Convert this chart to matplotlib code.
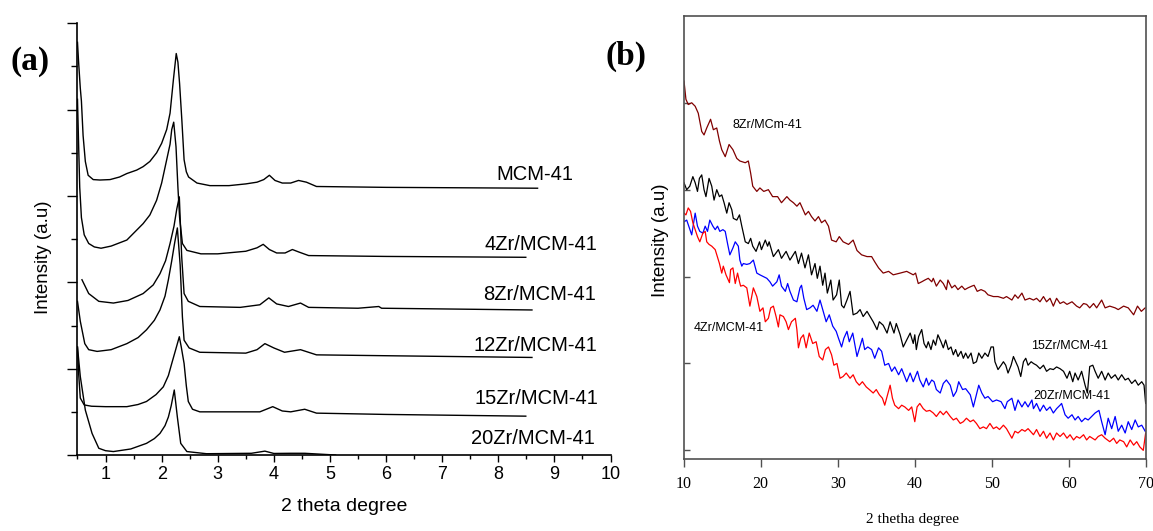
import numpy as np
import matplotlib
matplotlib.use("Agg")
import matplotlib.pyplot as plt
from matplotlib.ticker import MultipleLocator
from matplotlib import font_manager

# ---- panel (a): low angle XRD, curves already stacked (x = 2theta, y = offset intensity)
mcm41 = [(0.50, 4.78), (0.52, 4.55), (0.55, 4.25), (0.57, 4.10), (0.60, 3.70), (0.64, 3.40),
         (0.69, 3.24), (0.78, 3.19), (0.90, 3.185), (1.08, 3.19), (1.25, 3.22), (1.38, 3.26),
         (1.555, 3.30), (1.67, 3.34), (1.79, 3.40), (1.91, 3.50), (2.00, 3.61), (2.09, 3.77),
         (2.15, 3.96), (2.21, 4.35), (2.26, 4.65), (2.29, 4.55), (2.32, 4.30), (2.36, 3.88),
         (2.40, 3.42), (2.44, 3.28), (2.48, 3.22), (2.63, 3.15), (2.86, 3.12), (3.20, 3.12),
         (3.50, 3.14), (3.70, 3.16), (3.82, 3.19), (3.92, 3.24), (4.02, 3.18), (4.15, 3.15),
         (4.30, 3.15), (4.44, 3.18), (4.58, 3.16), (4.76, 3.11), (6.00, 3.10), (8.70, 3.09)]
zr4 = [(0.50, 4.12), (0.52, 3.60), (0.54, 3.10), (0.57, 2.75), (0.62, 2.55), (0.70, 2.45),
       (0.80, 2.41), (0.92, 2.395), (1.10, 2.42), (1.38, 2.49), (1.67, 2.68), (1.79, 2.78),
       (1.91, 2.95), (2.00, 3.15), (2.09, 3.42), (2.15, 3.60), (2.18, 3.77), (2.215, 3.855),
       (2.256, 3.57), (2.29, 3.10), (2.32, 2.75), (2.37, 2.45), (2.45, 2.37), (2.70, 2.33),
       (3.00, 2.33), (3.50, 2.36), (3.70, 2.40), (3.81, 2.44), (3.92, 2.38), (4.05, 2.34),
       (4.20, 2.34), (4.33, 2.38), (4.45, 2.35), (4.62, 2.31), (6.00, 2.30), (8.49, 2.29)]
zr8 = [(0.58, 2.03), (0.70, 1.87), (0.88, 1.78), (1.14, 1.76), (1.40, 1.79), (1.67, 1.87),
       (1.85, 1.97), (1.97, 2.10), (2.07, 2.25), (2.15, 2.45), (2.22, 2.65), (2.27, 2.85),
       (2.315, 2.99), (2.357, 2.30), (2.40, 1.87), (2.475, 1.78), (2.68, 1.72), (3.40, 1.71),
       (3.75, 1.74), (3.91, 1.82), (4.05, 1.75), (4.26, 1.72), (4.475, 1.76), (4.62, 1.71),
       (5.50, 1.70), (5.87, 1.72), (5.92, 1.70), (8.60, 1.68)]
zr12 = [(0.50, 1.78), (0.55, 1.55), (0.63, 1.29), (0.70, 1.22), (0.85, 1.20), (1.10, 1.22),
        (1.38, 1.29), (1.58, 1.36), (1.73, 1.45), (1.87, 1.56), (1.97, 1.68), (2.06, 1.84),
        (2.12, 2.03), (2.18, 2.25), (2.23, 2.45), (2.28, 2.63), (2.33, 2.20), (2.37, 1.60),
        (2.40, 1.33), (2.49, 1.24), (2.68, 1.19), (3.50, 1.18), (3.70, 1.22), (3.84, 1.29),
        (4.00, 1.24), (4.19, 1.19), (4.475, 1.22), (4.76, 1.16), (6.00, 1.15), (8.60, 1.13)]
zr15 = [(0.50, 1.25), (0.52, 0.95), (0.55, 0.66), (0.62, 0.58), (0.75, 0.565), (1.00, 0.56),
        (1.38, 0.56), (1.58, 0.585), (1.73, 0.62), (1.90, 0.70), (2.03, 0.79), (2.12, 0.92),
        (2.18, 1.06), (2.25, 1.22), (2.315, 1.37), (2.35, 1.25), (2.40, 1.06), (2.44, 0.80),
        (2.475, 0.62), (2.55, 0.53), (2.68, 0.50), (3.75, 0.50), (3.98, 0.56), (4.15, 0.51),
        (4.30, 0.50), (4.55, 0.53), (4.76, 0.485), (6.00, 0.47), (8.49, 0.45)]
zr20 = [(0.50, 1.25), (0.55, 0.91), (0.64, 0.52), (0.76, 0.25), (0.88, 0.078), (1.00, 0.05),
        (1.14, 0.04), (1.45, 0.07), (1.73, 0.135), (1.87, 0.19), (1.97, 0.25), (2.06, 0.34),
        (2.12, 0.44), (2.17, 0.57), (2.225, 0.753), (2.28, 0.44), (2.34, 0.135), (2.45, 0.04),
        (2.80, 0.015), (3.60, 0.02), (3.84, 0.045), (4.00, 0.018), (4.30, 0.02), (4.55, 0.02),
        (5.10, 0.0)]

a_curves = [mcm41, zr4, zr8, zr12, zr15, zr20]
a_names = ["MCM-41", "4Zr/MCM-41", "8Zr/MCM-41", "12Zr/MCM-41", "15Zr/MCM-41", "20Zr/MCM-41"]
a_label_x = [9.33, 9.76, 9.74, 9.76, 9.78, 9.72]
a_label_y = [3.25, 2.44, 1.86, 1.27, 0.66, 0.19]

# ---- panel (b): wide angle XRD
b_8zr = [(10.05, 4.25), (10.3, 4.04), (10.6, 3.98), (11.05, 4.00), (11.5, 3.96), (11.7, 3.92),
         (11.9, 3.88), (12.35, 3.67), (12.65, 3.63), (13.0, 3.71), (13.5, 3.81), (13.86, 3.69),
         (14.3, 3.71), (14.65, 3.56), (14.95, 3.46), (15.4, 3.38), (15.9, 3.52), (16.4, 3.46),
         (16.9, 3.36), (17.3, 3.33), (18.0, 3.31), (18.4, 3.33), (18.7, 3.19), (18.97, 3.04),
         (19.5, 2.98), (19.9, 3.02), (20.4, 2.98), (21.0, 3.00), (21.55, 2.92), (22.2, 2.92),
         (22.7, 2.85), (23.4, 2.92), (23.8, 2.88), (24.25, 2.85), (24.7, 2.81), (25.1, 2.85),
         (25.8, 2.71), (26.2, 2.75), (26.6, 2.69), (27.05, 2.64), (27.5, 2.69), (27.9, 2.62),
         (28.35, 2.65), (28.8, 2.58), (29.2, 2.42), (29.8, 2.40), (30.2, 2.46), (30.7, 2.40),
         (31.4, 2.37), (32.0, 2.42), (32.5, 2.30), (33.1, 2.25), (33.8, 2.23), (34.4, 2.23),
         (34.8, 2.17), (35.3, 2.10), (35.9, 2.04), (36.6, 2.06), (37.2, 2.02), (38.1, 2.04),
         (38.95, 2.06), (39.8, 2.02), (40.1, 2.04), (40.45, 1.92), (40.9, 1.94), (41.3, 1.96),
         (41.75, 1.98), (42.2, 1.94), (42.4, 1.98), (42.8, 1.89), (43.3, 1.96), (43.7, 1.92),
         (44.1, 1.85), (44.3, 1.96), (44.8, 1.87), (45.2, 1.90), (45.6, 1.85), (46.1, 1.89),
         (46.5, 1.85), (46.9, 1.87), (47.4, 1.89), (47.7, 1.90), (48.1, 1.83), (48.6, 1.85),
         (49.1, 1.83), (49.5, 1.79), (50.2, 1.77), (50.8, 1.77), (51.5, 1.75), (51.9, 1.77),
         (52.6, 1.73), (53.0, 1.79), (53.4, 1.75), (53.9, 1.81), (54.3, 1.73), (54.9, 1.75),
         (55.4, 1.73), (55.8, 1.75), (56.25, 1.71), (56.7, 1.77), (57.1, 1.71), (57.55, 1.75),
         (57.98, 1.66), (58.4, 1.75), (58.85, 1.69), (59.3, 1.71), (59.75, 1.68), (60.4, 1.71),
         (61.0, 1.66), (61.4, 1.64), (61.9, 1.69), (62.3, 1.68), (62.7, 1.64), (63.2, 1.69),
         (63.6, 1.64), (64.25, 1.73), (64.7, 1.64), (65.3, 1.66), (66.0, 1.64), (66.4, 1.62),
         (67.1, 1.66), (67.7, 1.64), (68.4, 1.56), (68.9, 1.66), (69.4, 1.60), (69.9, 1.64)]
b_15zr = [(10.05, 3.08), (10.4, 3.00), (10.8, 3.04), (11.2, 3.15), (11.5, 3.08), (11.8, 2.98),
          (12.05, 3.13), (12.35, 3.17), (12.65, 3.00), (12.9, 2.92), (13.3, 3.13), (13.65, 3.04),
          (13.95, 2.88), (14.3, 3.00), (14.65, 2.92), (14.95, 2.94), (15.25, 2.85), (15.6, 2.73),
          (15.9, 2.85), (16.25, 2.77), (16.45, 2.67), (16.9, 2.65), (17.25, 2.71), (17.55, 2.58),
          (18.0, 2.40), (18.4, 2.38), (18.7, 2.44), (18.97, 2.35), (19.4, 2.29), (19.85, 2.40),
          (20.1, 2.31), (20.6, 2.42), (20.9, 2.35), (21.1, 2.40), (21.65, 2.23), (22.3, 2.31),
          (22.7, 2.21), (23.3, 2.29), (23.8, 2.19), (24.5, 2.29), (24.9, 2.15), (25.3, 2.27),
          (25.75, 2.10), (26.2, 2.25), (26.6, 2.02), (27.05, 2.15), (27.35, 1.98), (27.7, 2.12),
          (28.05, 1.90), (28.35, 2.04), (28.65, 1.81), (29.1, 1.96), (29.4, 1.73), (29.85, 1.79),
          (30.2, 1.96), (30.5, 1.67), (30.8, 1.64), (31.2, 1.73), (31.6, 1.83), (32.0, 1.56),
          (32.5, 1.58), (32.9, 1.62), (33.3, 1.54), (33.8, 1.60), (34.2, 1.54), (34.6, 1.48),
          (35.1, 1.39), (35.4, 1.48), (35.9, 1.44), (36.4, 1.35), (36.8, 1.48), (37.3, 1.35),
          (37.6, 1.46), (38.1, 1.33), (38.5, 1.19), (38.95, 1.27), (39.4, 1.35), (39.8, 1.23),
          (40.0, 1.33), (40.2, 1.16), (40.5, 1.31), (40.9, 1.39), (41.2, 1.23), (41.5, 1.18),
          (41.75, 1.25), (42.1, 1.16), (42.4, 1.27), (42.7, 1.21), (43.0, 1.33), (43.4, 1.25),
          (43.7, 1.18), (44.0, 1.27), (44.35, 1.16), (44.7, 1.19), (45.0, 1.10), (45.3, 1.16),
          (45.6, 1.08), (46.0, 1.14), (46.3, 1.06), (46.6, 1.12), (46.9, 1.06), (47.3, 1.12),
          (47.6, 1.00), (48.0, 1.02), (48.3, 1.12), (48.7, 1.06), (49.1, 1.12), (49.5, 1.08),
          (49.9, 1.19), (50.2, 1.19), (50.4, 1.02), (50.8, 0.93), (51.2, 0.98), (51.5, 1.02),
          (51.8, 0.98), (52.1, 0.89), (52.5, 0.98), (52.8, 1.08), (53.1, 1.02), (53.4, 0.96),
          (53.75, 0.85), (54.1, 1.02), (54.4, 1.06), (54.7, 0.98), (55.1, 1.02), (55.4, 1.00),
          (55.8, 0.98), (56.25, 0.94), (56.7, 0.98), (57.1, 0.91), (57.55, 0.94), (57.98, 0.93),
          (58.4, 0.96), (58.85, 0.94), (59.3, 0.91), (59.75, 0.83), (60.1, 0.91), (60.5, 0.79),
          (60.8, 0.89), (61.2, 0.81), (61.65, 0.91), (62.1, 0.75), (62.4, 0.66), (62.7, 0.965),
          (63.1, 0.98), (63.4, 0.91), (63.8, 0.83), (64.25, 0.91), (64.7, 0.81), (65.1, 0.89),
          (65.5, 0.83), (66.0, 0.87), (66.4, 0.81), (66.85, 0.87), (67.3, 0.81), (67.7, 0.83),
          (68.15, 0.77), (68.6, 0.81), (69.0, 0.75), (69.45, 0.79), (69.75, 0.75), (69.96, 0.54)]
b_20zr = [(10.05, 2.63), (10.4, 2.65), (10.75, 2.56), (11.05, 2.48), (11.3, 2.62), (11.5, 2.73),
          (11.8, 2.58), (12.1, 2.52), (12.5, 2.50), (12.8, 2.58), (13.1, 2.52), (13.4, 2.65),
          (13.8, 2.58), (14.1, 2.54), (14.4, 2.58), (14.7, 2.52), (15.1, 2.54), (15.4, 2.52),
          (15.7, 2.38), (16.0, 2.25), (16.4, 2.33), (16.7, 2.40), (17.1, 2.35), (17.3, 2.19),
          (17.55, 2.12), (17.75, 2.15), (18.2, 2.14), (18.6, 2.15), (19.05, 2.19), (19.5, 2.04),
          (19.9, 2.02), (20.35, 2.00), (20.8, 1.98), (21.2, 1.94), (21.55, 1.89), (22.1, 1.94),
          (22.4, 2.02), (22.7, 1.89), (23.2, 1.83), (23.5, 1.92), (23.8, 1.83), (24.25, 1.73),
          (24.7, 1.71), (25.1, 1.87), (25.3, 1.90), (25.6, 1.75), (25.97, 1.62), (26.4, 1.64),
          (26.8, 1.67), (27.3, 1.60), (27.7, 1.73), (28.05, 1.62), (28.5, 1.48), (28.9, 1.56),
          (29.35, 1.43), (29.8, 1.37), (30.1, 1.29), (30.5, 1.19), (30.8, 1.29), (31.2, 1.37),
          (31.5, 1.25), (31.95, 1.35), (32.5, 1.08), (32.8, 1.17), (33.2, 1.29), (33.5, 1.16),
          (33.9, 1.19), (34.4, 1.16), (34.8, 1.06), (35.3, 1.18), (35.7, 1.14), (36.1, 0.98),
          (36.6, 1.00), (37.0, 0.91), (37.4, 0.96), (37.9, 0.87), (38.3, 0.94), (38.95, 0.79),
          (39.4, 0.89), (39.8, 0.79), (40.35, 0.91), (40.65, 0.81), (41.1, 0.73), (41.5, 0.83),
          (41.8, 0.75), (42.2, 0.81), (42.5, 0.79), (42.8, 0.70), (43.3, 0.66), (43.7, 0.77),
          (44.1, 0.81), (44.6, 0.75), (45.0, 0.62), (45.4, 0.68), (45.7, 0.79), (46.2, 0.70),
          (46.6, 0.71), (47.2, 0.64), (47.6, 0.50), (48.0, 0.64), (48.3, 0.75), (48.7, 0.66),
          (49.1, 0.60), (49.5, 0.62), (50.1, 0.56), (50.6, 0.58), (51.2, 0.56), (51.7, 0.48),
          (52.0, 0.56), (52.6, 0.60), (53.0, 0.46), (53.4, 0.58), (53.9, 0.50), (54.3, 0.56),
          (54.7, 0.50), (55.2, 0.58), (55.4, 0.48), (55.8, 0.54), (56.25, 0.45), (56.7, 0.52),
          (57.1, 0.46), (57.55, 0.50), (57.98, 0.43), (58.4, 0.48), (58.85, 0.52), (59.05, 0.54),
          (59.5, 0.41), (59.9, 0.37), (60.4, 0.41), (60.8, 0.35), (61.2, 0.39), (61.65, 0.33),
          (62.1, 0.37), (62.5, 0.35), (62.95, 0.39), (63.4, 0.43), (63.9, 0.46), (64.25, 0.33),
          (64.7, 0.18), (65.1, 0.37), (65.55, 0.25), (66.0, 0.39), (66.4, 0.22), (66.85, 0.29),
          (67.3, 0.20), (67.7, 0.33), (68.15, 0.24), (68.6, 0.35), (69.0, 0.27), (69.45, 0.29),
          (69.9, 0.22)]
b_4zr = [(10.05, 2.73), (10.3, 2.71), (10.6, 2.79), (10.9, 2.75), (11.2, 2.62), (11.5, 2.54),
         (11.8, 2.46), (12.1, 2.40), (12.5, 2.50), (12.8, 2.52), (13.0, 2.40), (13.3, 2.37),
         (13.65, 2.35), (14.1, 2.31), (14.65, 2.15), (14.95, 2.04), (15.15, 2.12), (15.5, 2.02),
         (15.95, 1.93), (16.1, 2.08), (16.4, 2.10), (16.7, 1.92), (17.0, 2.04), (17.25, 1.94),
         (17.4, 1.89), (17.75, 1.90), (18.2, 1.87), (18.6, 1.66), (19.05, 1.87), (19.5, 1.77),
         (19.9, 1.60), (20.3, 1.64), (20.6, 1.48), (21.0, 1.52), (21.3, 1.64), (21.65, 1.66),
         (22.0, 1.54), (22.3, 1.42), (22.5, 1.56), (22.95, 1.54), (23.3, 1.48), (23.6, 1.39),
         (24.0, 1.48), (24.5, 1.52), (24.7, 1.39), (24.9, 1.18), (25.2, 1.29), (25.55, 1.33),
         (25.9, 1.18), (26.3, 1.35), (26.75, 1.23), (27.2, 1.25), (27.6, 1.08), (28.05, 1.04),
         (28.4, 1.16), (28.8, 1.19), (29.2, 1.10), (29.5, 0.98), (29.9, 1.00), (30.3, 0.83),
         (30.7, 0.85), (31.1, 0.89), (31.6, 0.83), (32.0, 0.87), (32.4, 0.79), (32.8, 0.75),
         (33.2, 0.79), (33.7, 0.73), (34.1, 0.70), (34.6, 0.66), (35.0, 0.70), (35.4, 0.64),
         (35.8, 0.60), (36.1, 0.52), (36.4, 0.62), (36.8, 0.75), (37.1, 0.60), (37.4, 0.52),
         (37.9, 0.48), (38.3, 0.52), (38.7, 0.50), (39.2, 0.46), (39.6, 0.50), (40.0, 0.33),
         (40.3, 0.50), (40.65, 0.54), (41.1, 0.48), (41.5, 0.45), (41.95, 0.46), (42.4, 0.43),
         (42.8, 0.39), (43.3, 0.45), (43.7, 0.41), (44.1, 0.45), (44.6, 0.39), (45.0, 0.35),
         (45.4, 0.37), (45.9, 0.31), (46.3, 0.33), (46.7, 0.37), (47.2, 0.33), (47.6, 0.35),
         (48.0, 0.31), (48.45, 0.25), (48.9, 0.27), (49.3, 0.25), (49.75, 0.31), (50.2, 0.25),
         (50.6, 0.27), (51.0, 0.24), (51.5, 0.29), (51.9, 0.25), (52.35, 0.18), (52.6, 0.14),
         (53.0, 0.22), (53.4, 0.20), (53.9, 0.24), (54.3, 0.22), (54.7, 0.25), (55.2, 0.20),
         (55.4, 0.18), (55.8, 0.24), (56.25, 0.16), (56.7, 0.22), (57.1, 0.14), (57.55, 0.20),
         (57.98, 0.12), (58.4, 0.20), (58.85, 0.16), (59.3, 0.20), (59.75, 0.14), (60.15, 0.18),
         (60.6, 0.12), (61.0, 0.16), (61.4, 0.14), (61.9, 0.18), (62.3, 0.12), (62.7, 0.16),
         (63.4, 0.12), (63.8, 0.16), (64.25, 0.18), (64.7, 0.14), (65.3, 0.10), (65.8, 0.14),
         (66.2, 0.08), (66.6, 0.12), (67.1, 0.10), (67.5, 0.04), (67.95, 0.12), (68.4, 0.06),
         (68.8, 0.10), (69.2, 0.04), (69.65, 0.00), (69.96, 0.20)]

b_curves = [b_8zr, b_15zr, b_20zr, b_4zr]
b_colors = ["#800000", "black", "#0000ff", "#ff0000"]
b_names = ["8Zr/MCm-41", "15Zr/MCM-41", "20Zr/MCM-41", "4Zr/MCM-41"]
b_label_x = [16.4, 55.1, 55.35, 11.35]
b_label_y = [3.75, 1.20, 0.63, 1.41]

SANS = "Liberation Sans"
SERIF = "Liberation Serif"
try:
    font_manager.findfont("Liberation Sans Narrow", fallback_to_default=False)
    NARROW, NARROW_SIZE = "Liberation Sans Narrow", 11
except ValueError:
    NARROW, NARROW_SIZE = SANS, 9

fig = plt.figure(figsize=(11.53, 5.31), dpi=100)

# ---------------- (a)
ax1 = fig.add_axes([0.0672, 0.1431, 0.4623, 0.813])
for c in a_curves:
    xs, ys = np.array(c).T
    ax1.plot(xs, ys, color="black", lw=1.0)
for name, lx, ly in zip(a_names, a_label_x, a_label_y):
    ax1.text(lx, ly, name, ha="right", va="center", fontsize=14.5, family=SANS)

ax1.set_xlim(0.5, 10)
ax1.set_ylim(0, 5)
ax1.spines["top"].set_visible(False)
ax1.spines["right"].set_visible(False)
for s in ["left", "bottom"]:
    ax1.spines[s].set_linewidth(1.2)
ax1.set_xticks(range(1, 11))
ax1.set_xticklabels([str(i) for i in range(1, 11)], fontsize=13, family=SANS)
ax1.xaxis.set_minor_locator(MultipleLocator(0.5))
ax1.yaxis.set_major_locator(MultipleLocator(1))
ax1.yaxis.set_minor_locator(MultipleLocator(0.5))
ax1.tick_params(axis="x", which="major", direction="out", length=5, width=1, pad=3)
ax1.tick_params(axis="x", which="minor", direction="out", length=3, width=1)
ax1.tick_params(axis="y", which="major", direction="out", length=7, width=1, labelleft=False)
ax1.tick_params(axis="y", which="minor", direction="out", length=4, width=1)
ax1.set_xlabel("2 theta degree", fontsize=14, family=SANS)
ax1.set_ylabel("Intensity (a.u)", fontsize=13.5, family=SANS)
ax1.xaxis.set_label_coords(0.5, -0.10)
ax1.yaxis.set_label_coords(-0.048, 0.459)
fig.text(0.026, 0.885, "(a)", fontsize=24, fontweight="bold", family=SERIF, ha="center", va="center")

# ---------------- (b)
ax2 = fig.add_axes([0.5929, 0.1358, 0.4010, 0.8343])
for c, col in zip(b_curves, b_colors):
    xs, ys = np.array(c).T
    ax2.plot(xs, ys, color=col, lw=0.9)
for name, lx, ly in zip(b_names, b_label_x, b_label_y):
    ax2.text(lx, ly, name, ha="left", va="center", fontsize=NARROW_SIZE, family=NARROW)

ax2.set_xlim(10, 70)
ax2.set_ylim(-0.098, 5.0)
for s in ax2.spines.values():
    s.set_color("#505050")
    s.set_linewidth(1.2)
ax2.set_xticks(range(10, 71, 10))
ax2.set_xticklabels([str(v) for v in range(10, 71, 10)], fontsize=11.5, family=SERIF)
ax2.set_yticks(range(0, 5))
ax2.tick_params(axis="x", direction="out", length=6, width=1, pad=6, color="#505050")
ax2.tick_params(axis="y", direction="in", length=4, width=1, labelleft=False, color="#505050")
ax2.set_xlabel("2 thetha degree", fontsize=11, family=SERIF)
ax2.set_ylabel("Intensity (a.u)", fontsize=13.5, family=SANS)
ax2.xaxis.set_label_coords(0.494, -0.122)
ax2.yaxis.set_label_coords(-0.032, 0.494)
fig.text(0.543, 0.893, "(b)", fontsize=24, fontweight="bold", family=SERIF, ha="center", va="center")

fig.savefig("out.png", dpi=100)
